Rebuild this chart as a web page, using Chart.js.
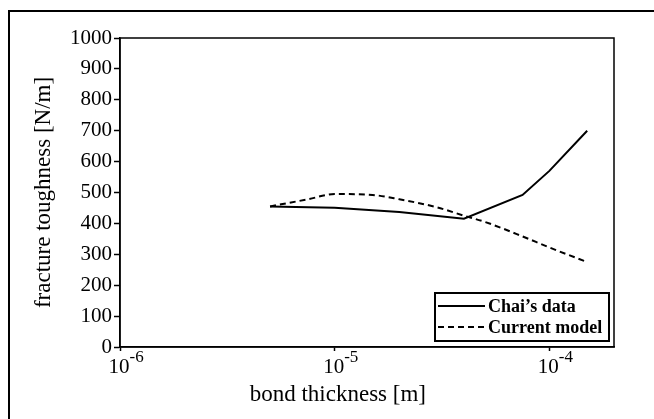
<!DOCTYPE html>
<html>
<head>
<meta charset="utf-8">
<script src="https://cdn.jsdelivr.net/npm/chart.js@4.4.1/dist/chart.umd.min.js"></script>
<style>
body{margin:0;background:#fff;}
#wrap{width:654px;height:419px;}
</style>
</head>
<body>
<div id="wrap"><canvas id="chart" width="654" height="419"></canvas></div>
<script>
// fracture toughness vs bond thickness
const chaiX = [5e-6, 1e-5, 2e-5, 4e-5, 7.5e-5, 1e-4, 1.5e-4];
const chaiY = [455, 451, 437, 415, 492, 570, 700];
const modelX = [5e-6, 7.5e-6, 1e-5, 1.5e-5, 2e-5, 3e-5, 4e-5, 5e-5, 7.5e-5, 1e-4, 1.5e-4];
const modelY = [455, 478, 495, 492, 478, 452, 425, 405, 358, 322, 275];
const seriesNames = ["Chai\u2019s data", "Current model"];
const xTicks = [1e-6, 1e-5, 1e-4];
const yTicks = [0, 100, 200, 300, 400, 500, 600, 700, 800, 900, 1000];
const xTitle = "bond thickness [m]";
const yTitle = "fracture toughness [N/m]";

const serif = '"Liberation Serif", "Times New Roman", serif';
Chart.defaults.font.family = serif;
Chart.defaults.color = "#000";

function pts(xs, ys){
  return xs.map((x,i)=>({x:x, y:ys[i]}));
}

const extras = {
  id: "extras",
  afterDraw(chart){
    const ctx = chart.ctx;
    const a = chart.chartArea;
    const xs = chart.scales.x;
    ctx.save();
    ctx.strokeStyle = "#000";
    ctx.fillStyle = "#000";

    // figure frame (only left and top visible)
    ctx.lineWidth = 2;
    ctx.beginPath();
    ctx.moveTo(9, 419);
    ctx.lineTo(9, 11);
    ctx.lineTo(654, 11);
    ctx.stroke();

    // plot box
    ctx.lineWidth = 1.5;
    ctx.strokeRect(a.left, a.top, a.right - a.left, a.bottom - a.top);

    // x tick labels 10^n
    xs.ticks.forEach(t=>{
      const px = xs.getPixelForValue(t.value);
      const e = Math.round(Math.log10(t.value));
      ctx.font = "21px " + serif;
      ctx.textAlign = "center";
      ctx.textBaseline = "alphabetic";
      ctx.fillText("10", px - 1, a.bottom + 26);
      const w = ctx.measureText("10").width;
      ctx.font = "17px " + serif;
      ctx.textAlign = "left";
      ctx.fillText((e < 0 ? "-" : "") + Math.abs(e), px - 1 + w/2, a.bottom + 15);
    });

    // x title
    ctx.font = "23px " + serif;
    ctx.textAlign = "center";
    ctx.fillText(xTitle, a.left + (a.right - a.left) * 0.441, a.bottom + 54);

    // legend
    const lw = 174, lh = 48;
    const lx = a.right - 5 - lw, ly = a.bottom - 6 - lh;
    ctx.fillStyle = "#fff";
    ctx.fillRect(lx, ly, lw, lh);
    ctx.fillStyle = "#000";
    ctx.lineWidth = 2;
    ctx.strokeRect(lx, ly, lw, lh);
    chart.data.datasets.forEach((ds,i)=>{
      const y = ly + 13 + i * 21;
      ctx.lineWidth = 2;
      ctx.setLineDash(ds.borderDash || []);
      ctx.beginPath();
      ctx.moveTo(lx + 3, y);
      ctx.lineTo(lx + 50, y);
      ctx.stroke();
      ctx.setLineDash([]);
      ctx.font = "bold 18px " + serif;
      ctx.textAlign = "left";
      ctx.textBaseline = "middle";
      ctx.fillText(ds.label, lx + 53, y + 1);
    });
    ctx.restore();
  }
};

new Chart(document.getElementById("chart"), {
  type: "line",
  data: {
    datasets: [
      { label: seriesNames[0], data: pts(chaiX, chaiY), borderColor: "#000", borderWidth: 2, pointRadius: 0, tension: 0 },
      { label: seriesNames[1], data: pts(modelX, modelY), borderColor: "#000", borderWidth: 2, borderDash: [6,4], pointRadius: 0, cubicInterpolationMode: "monotone" }
    ]
  },
  options: {
    responsive: false,
    animation: false,
    devicePixelRatio: 1,
    layout: { padding: { left: 0, top: 38, right: 40, bottom: 0 } },
    plugins: { legend: { display: false }, tooltip: { enabled: false } },
    scales: {
      x: {
        type: "logarithmic",
        min: 1e-6,
        max: 2e-4,
        afterBuildTicks: s => { s.ticks = xTicks.map(v=>({value:v})); },
        afterFit: s => { s.height = 72; },
        ticks: { display: false },
        grid: { drawOnChartArea: false, drawTicks: true, tickLength: 4, tickColor: "#000", tickWidth: 1.5 },
        border: { display: true, color: "#000", width: 1.5 }
      },
      y: {
        min: 0,
        max: 1000,
        afterBuildTicks: s => { s.ticks = yTicks.map(v=>({value:v})); },
        afterFit: s => { s.width = 120; },
        ticks: { font: { size: 21 }, color: "#000", padding: 2, callback: v => String(v) },
        grid: { drawOnChartArea: false, drawTicks: true, tickLength: 6, tickColor: "#000", tickWidth: 1.5 },
        border: { display: true, color: "#000", width: 1.5 },
        title: { display: true, text: yTitle, font: { size: 23 }, color: "#000", padding: { top: 30, bottom: 0 } }
      }
    }
  },
  plugins: [extras]
});
</script>
</body>
</html>
